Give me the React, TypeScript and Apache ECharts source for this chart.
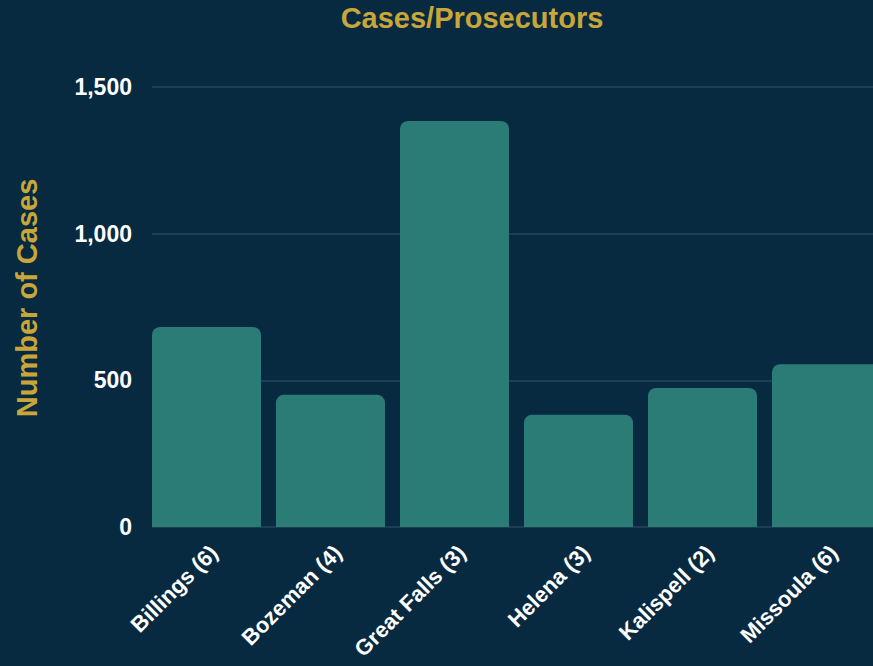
import React, { useEffect, useRef } from "react";
import * as echarts from "echarts";

const categories = ["Billings (6)", "Bozeman (4)", "Great Falls (3)", "Helena (3)", "Kalispell (2)", "Missoula (6)"];
const cases = [682, 451, 1384, 383, 474, 555];
const yTicks = { min: 0, max: 1500, interval: 500 };

const FONT = "'Liberation Sans', Arial, Helvetica, sans-serif";
const GOLD = "#c9a63a";
const BG = "#072a40";

export default function App() {
  const ref = useRef<HTMLDivElement>(null);
  useEffect(() => {
    if (!ref.current) return;
    const chart = echarts.init(ref.current, undefined, { renderer: "svg" });
    chart.setOption({
      animation: false,
      backgroundColor: BG,
      title: {
        text: "Cases/Prosecutors",
        left: 467,
        top: -2,
        textAlign: "center",
        textStyle: { color: GOLD, fontFamily: FONT, fontWeight: "bold", fontSize: 29 },
      },
      grid: { left: 152, top: 87, width: 744, bottom: 139, outerBoundsMode: "none" },
      xAxis: {
        type: "category",
        data: categories,
        axisLine: { show: false },
        axisTick: { show: false },
        axisLabel: {
          rotate: 45,
          margin: 22,
          color: "#ffffff",
          fontFamily: FONT,
          fontWeight: "bold",
          fontSize: 22,
          interval: 0,
        },
      },
      yAxis: {
        type: "value",
        min: yTicks.min,
        max: yTicks.max,
        interval: yTicks.interval,
        name: "Number of Cases",
        nameLocation: "middle",
        nameGap: 111,
        nameTextStyle: {
          color: GOLD,
          fontFamily: FONT,
          fontWeight: "bold",
          fontSize: 29,
          padding: [0, 0, 0, 18],
        },
        axisLine: { show: false },
        axisTick: { show: false },
        axisLabel: {
          margin: 20,
          color: "#ffffff",
          fontFamily: FONT,
          fontWeight: "bold",
          fontSize: 23,
          formatter: (v: number) => v.toLocaleString("en-US"),
        },
        splitLine: { lineStyle: { color: "#24475d", width: 1.5 } },
      },
      series: [
        {
          type: "bar",
          name: "Cases",
          data: cases,
          barWidth: 109,
          barGap: "0%",
          itemStyle: { color: "#2b7b77", borderRadius: [8, 8, 0, 0] },
        },
        {
          type: "bar",
          name: "spacer",
          data: [],
          barWidth: 15,
          silent: true,
        },
      ],
    });
    return () => chart.dispose();
  }, []);
  return <div ref={ref} style={{ position: "absolute", left: 0, top: 0, width: 873, height: 666 }} />;
}
